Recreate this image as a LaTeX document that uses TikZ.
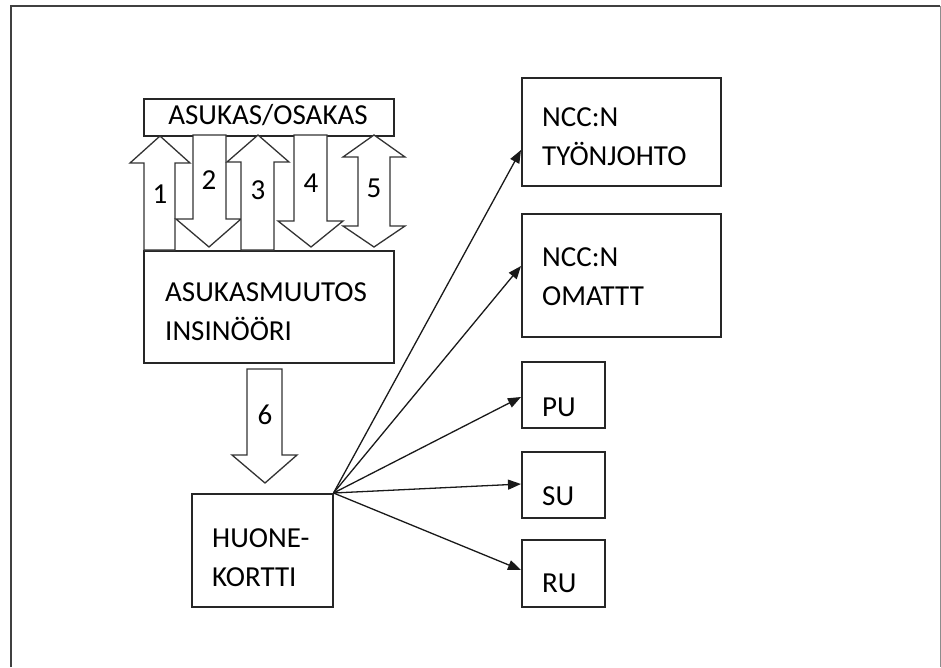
\documentclass[tikz,border=0pt]{standalone}
\usepackage{fontspec}
\setmainfont{Carlito}
\usetikzlibrary{arrows.meta}
\begin{document}
\begin{tikzpicture}[x=1pt,y=-1pt,
  box/.style={draw=black!85, line width=1.5pt, anchor=north west, inner sep=0pt},
  lbl/.style={anchor=west, align=left, inner sep=0pt, font=\fontsize{29}{39}\selectfont},
  num/.style={inner sep=0pt, font=\fontsize{29}{30}\selectfont},
  blockarrow/.style={draw=black!80, line width=1.3pt, fill=white, line join=miter},
  conn/.style={draw=black!90, line width=1.3pt, -{Triangle[length=13pt,width=10pt]}}]
\useasboundingbox (0,0) rectangle (941,667);
% outer frame
\draw[line width=2pt, black!75] (11,667) -- (11,6) -- (940,6);
\draw[line width=0.8pt, black!45] (940,6) -- (940,667);

% boxes
\node[box, minimum width=250pt, minimum height=37pt] (ao) at (143,98) {};
\node[num] (aot) at (268,115) {ASUKAS/OSAKAS};
\node[box, minimum width=250pt, minimum height=112pt] (ai) at (143,250) {};
\node[lbl] (ait) at (165,312) {ASUKASMUUTOS\\INSINÖÖRI};
\node[box, minimum width=141pt, minimum height=113pt] (hk) at (191,493) {};
\node[lbl] (hkt) at (212,558) {HUONE-\\KORTTI};
\node[box, minimum width=199pt, minimum height=108pt] (n1) at (521,77) {};
\node[lbl] (n1t) at (542,137) {NCC:N\\TYÖNJOHTO};
\node[box, minimum width=199pt, minimum height=123pt] (n2) at (521,213) {};
\node[lbl] (n2t) at (542,277) {NCC:N\\OMATTT};
\node[box, minimum width=83pt, minimum height=66pt] (pu) at (521,361) {};
\node[lbl] (put) at (542,407) {PU};
\node[box, minimum width=83pt, minimum height=66pt] (su) at (521,451) {};
\node[lbl] (sut) at (542,496) {SU};
\node[box, minimum width=83pt, minimum height=67pt] (ru) at (521,539) {};
\node[lbl] (rut) at (542,583) {RU};

% block arrows
\draw[blockarrow] (144,250) -- (144,163) -- (130,163) -- (160,136) -- (190,163) -- (175,163) -- (175,250) -- cycle;
\draw[blockarrow] (193,135) -- (193,219) -- (176,219) -- (209,247) -- (241,219) -- (226,219) -- (226,135) -- cycle;
\draw[blockarrow] (241,250) -- (241,162) -- (227,162) -- (258,135) -- (289,162) -- (274,162) -- (274,250) -- cycle;
\draw[blockarrow] (294,135) -- (294,221) -- (278,221) -- (311,247) -- (343,221) -- (327,221) -- (327,135) -- cycle;
\draw[blockarrow] (374,135) -- (405,157) -- (390,157) -- (390,226) -- (405,226) -- (374,247) -- (343,226) -- (358,226) -- (358,157) -- (343,157) -- cycle;
\draw[blockarrow] (247,369) -- (247,455) -- (232,455) -- (265,483) -- (297,455) -- (282,455) -- (282,369) -- cycle;
\node[num] (l1) at (160,194) {1};
\node[num] (l2) at (209,180) {2};
\node[num] (l3) at (258,190) {3};
\node[num] (l4) at (311,183) {4};
\node[num] (l5) at (374,188) {5};
\node[num] (l6) at (265,415) {6};

% connectors
\coordinate (o) at (hk.north east);
\coordinate (t1) at (521,150);
\coordinate (t2) at (521,266);
\coordinate (t3) at (521,397);
\coordinate (t4) at (521,484);
\coordinate (t5) at (521,570);
\draw[conn] (o) -- (t1);
\draw[conn] (o) -- (t2);
\draw[conn] (o) -- (t3);
\draw[conn] (o) -- (t4);
\draw[conn] (o) -- (t5);
\end{tikzpicture}
\end{document}
